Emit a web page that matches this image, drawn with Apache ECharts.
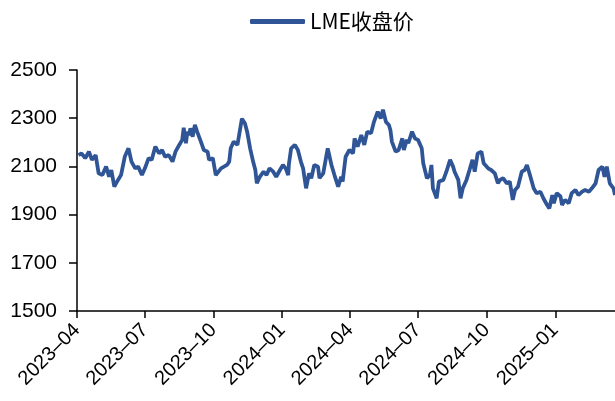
<!DOCTYPE html>
<html>
<head>
<meta charset="utf-8">
<script src="https://cdn.jsdelivr.net/npm/echarts@6/dist/echarts.min.js"></script>
<style>
html,body{margin:0;padding:0;background:#fff;}
#chart{width:615px;height:401px;}
</style>
</head>
<body>
<div id="chart"></div>
<script>
const seriesName = 'LME收盘价';
const dates = [
'2023-04-03','2023-04-07','2023-04-12','2023-04-17','2023-04-21','2023-04-26','2023-04-30','2023-05-05','2023-05-10','2023-05-14',
'2023-05-17','2023-05-21','2023-05-26','2023-05-30','2023-06-04','2023-06-09','2023-06-13','2023-06-18','2023-06-22','2023-06-27',
'2023-07-01','2023-07-06','2023-07-10','2023-07-15','2023-07-20','2023-07-24','2023-07-28','2023-08-02','2023-08-07','2023-08-11',
'2023-08-16','2023-08-20','2023-08-22','2023-08-25','2023-08-27','2023-08-29','2023-08-31','2023-09-03','2023-09-06','2023-09-09',
'2023-09-14','2023-09-16','2023-09-18','2023-09-23','2023-09-25','2023-09-30','2023-10-04','2023-10-06','2023-10-11','2023-10-15',
'2023-10-19','2023-10-22','2023-10-24','2023-10-28','2023-11-02','2023-11-04','2023-11-08','2023-11-12','2023-11-15','2023-11-19',
'2023-11-23','2023-11-26','2023-11-28','2023-12-02','2023-12-07','2023-12-11','2023-12-15','2023-12-20','2023-12-24','2023-12-29',
'2024-01-02','2024-01-06','2024-01-09','2024-01-10','2024-01-13','2024-01-18','2024-01-22','2024-01-26','2024-01-29','2024-01-31',
'2024-02-02','2024-02-06','2024-02-09','2024-02-13','2024-02-18','2024-02-20','2024-02-25','2024-02-27','2024-03-02','2024-03-07',
'2024-03-11','2024-03-16','2024-03-20','2024-03-22','2024-03-26','2024-03-31','2024-04-05','2024-04-07','2024-04-11','2024-04-16',
'2024-04-20','2024-04-24','2024-04-29','2024-05-03','2024-05-08','2024-05-12','2024-05-15','2024-05-19','2024-05-23','2024-05-25',
'2024-05-27','2024-06-01','2024-06-05','2024-06-10','2024-06-12','2024-06-16','2024-06-18','2024-06-23','2024-06-27','2024-07-01',
'2024-07-06','2024-07-08','2024-07-13','2024-07-17','2024-07-19','2024-07-21','2024-07-26','2024-07-29','2024-08-04','2024-08-08',
'2024-08-13','2024-08-17','2024-08-19','2024-08-24','2024-08-27','2024-08-30','2024-09-04','2024-09-08','2024-09-12','2024-09-15',
'2024-09-19','2024-09-24','2024-09-27','2024-10-03','2024-10-07','2024-10-12','2024-10-16','2024-10-19','2024-10-23','2024-10-28',
'2024-11-01','2024-11-05','2024-11-08','2024-11-12','2024-11-17','2024-11-21','2024-11-24','2024-11-28','2024-12-03','2024-12-07',
'2024-12-12','2024-12-16','2024-12-21','2024-12-24','2024-12-28','2024-12-30','2025-01-03','2025-01-08','2025-01-10','2025-01-14',
'2025-01-19','2025-01-23','2025-01-28','2025-02-01','2025-02-06','2025-02-10','2025-02-15','2025-02-19','2025-02-24','2025-02-28',
'2025-03-05','2025-03-08','2025-03-11','2025-03-15','2025-03-20','2025-03-22'
];
const prices = [
2147,2154,2134,2161,2127,2147,2071,2064,2099,2057,
2085,2016,2044,2064,2140,2175,2120,2092,2099,2064,
2092,2134,2127,2182,2154,2168,2140,2147,2120,2161,
2189,2210,2260,2196,2244,2230,2258,2223,2272,2244,
2203,2210,2168,2161,2127,2134,2064,2057,2092,2099,
2106,2120,2175,2203,2189,2189,2298,2279,2244,2175,
2120,2085,2030,2057,2078,2064,2092,2078,2057,2085,
2106,2090,2064,2110,2175,2189,2168,2120,2092,2051,
2009,2071,2051,2106,2099,2051,2071,2106,2175,2106,
2064,2016,2057,2037,2140,2168,2154,2216,2182,2230,
2189,2244,2237,2285,2327,2299,2335,2285,2272,2251,
2203,2161,2168,2216,2168,2210,2196,2244,2216,2210,
2175,2113,2051,2064,2106,2009,1968,2037,2044,2078,
2127,2099,2078,2044,1968,2009,2044,2085,2127,2078,
2154,2161,2113,2092,2085,2071,2030,2044,2051,2030,
2037,1961,2002,2016,2078,2085,2106,2064,2009,1989,
1995,1968,1940,1926,1981,1947,1989,1975,1940,1961,
1947,1989,2002,1981,1995,2002,1995,2009,2030,2085,
2099,2057,2099,2030,2009,1981
];
const quarterTicks = ['2023-04-01','2023-07-01','2023-10-01','2024-01-01','2024-04-01','2024-07-01','2024-10-01','2025-01-01'];
const xMin = '2023-04-01';
const xMax = '2025-03-22';
const yMin = 1500, yMax = 2500, yStep = 200;

function toTs(s){const p=s.split('-').map(Number);return Date.UTC(p[0],p[1]-1,p[2]);}
const tickTs = quarterTicks.map(toTs);
const data = dates.map((d,i)=>[toTs(d), prices[i]]);

const chart = echarts.init(document.getElementById('chart'), null, {renderer:'canvas'});
chart.setOption({
  animation:false,
  backgroundColor:'#fff',
  legend:{
    data:[{name:seriesName, icon:'roundRect'}],
    left:245, top:6,
    itemWidth:55, itemHeight:5, itemGap:6,
    itemStyle:{color:'#2F5597'},
    textStyle:{fontFamily:'Noto Sans CJK SC', fontSize:21, color:'#000'}
  },
  grid:{left:77, right:0, top:70, bottom:90, containLabel:false},
  xAxis:{
    type:'value',
    min:toTs(xMin), max:toTs(xMax),
    axisLine:{show:true, onZero:false, lineStyle:{color:'#000', width:1.5}},
    axisTick:{show:true, length:7, customValues:tickTs, lineStyle:{color:'#000', width:1.5}},
    axisLabel:{
      customValues:tickTs,
      rotate:45, margin:16,
      fontFamily:'Liberation Sans', fontSize:20, color:'#000',
      formatter:function(v){const d=new Date(v);const m=d.getUTCMonth()+1;return d.getUTCFullYear()+'–'+(m<10?'0'+m:m);}
    },
    splitLine:{show:false}
  },
  yAxis:{
    type:'value',
    min:yMin, max:yMax, interval:yStep,
    axisLine:{show:true, lineStyle:{color:'#000', width:1.5}},
    axisTick:{show:true, inside:false, length:8, lineStyle:{color:'#000', width:1.5}},
    axisLabel:{margin:20, fontFamily:'Liberation Sans', fontSize:21, color:'#000', formatter:function(v){return String(v);}},
    splitLine:{show:false}
  },
  series:[{
    name:seriesName,
    type:'line',
    data:data,
    symbol:'none',
    showSymbol:false,
    lineStyle:{color:'#2F5597', width:3.8},
    itemStyle:{color:'#2F5597'}
  }]
});
</script>
</body>
</html>
